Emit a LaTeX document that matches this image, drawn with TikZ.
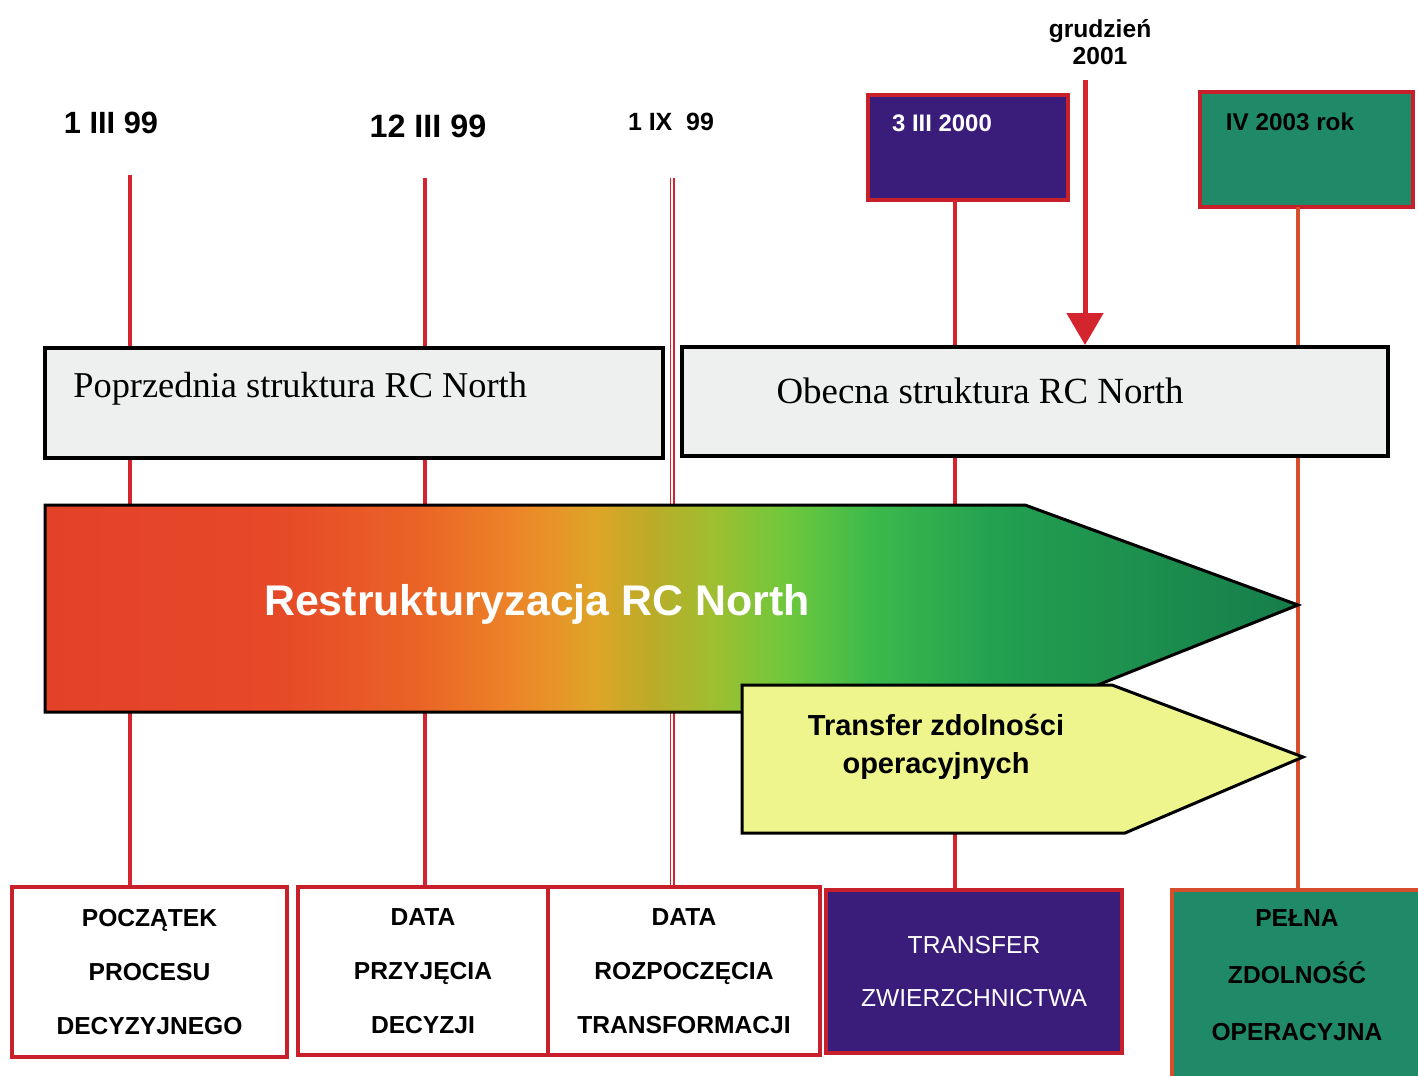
\documentclass[tikz,border=0pt]{standalone}
\usepackage{fontspec}
\setmainfont{Liberation Serif}
\setsansfont{Liberation Sans}
\usetikzlibrary{arrows.meta}

\definecolor{linered}{RGB}{212,36,46}
\definecolor{boxred}{RGB}{200,32,42}
\definecolor{pomaranczowy}{RGB}{214,78,44}
\definecolor{fioletowy}{RGB}{58,28,122}
\definecolor{zielony}{RGB}{32,138,104}
\definecolor{szary}{RGB}{238,240,240}
\definecolor{zolty}{RGB}{238,245,140}
\definecolor{g0}{RGB}{228,66,40}
\definecolor{g1}{RGB}{230,72,40}
\definecolor{g2}{RGB}{234,100,38}
\definecolor{g3}{RGB}{236,135,40}
\definecolor{g4}{RGB}{222,165,40}
\definecolor{g5}{RGB}{185,172,40}
\definecolor{g6}{RGB}{160,190,48}
\definecolor{g7}{RGB}{110,200,60}
\definecolor{g8}{RGB}{60,185,75}
\definecolor{g9}{RGB}{35,160,80}
\definecolor{g10}{RGB}{22,125,75}

\pgfdeclarehorizontalshading{restrukt}{100bp}{color(0bp)=(g0); color(25bp)=(g0);
  color(34bp)=(g1); color(40bp)=(g2); color(44bp)=(g3); color(47bp)=(g4);
  color(49.3bp)=(g5); color(51.6bp)=(g6); color(54.6bp)=(g7); color(58bp)=(g8);
  color(63bp)=(g9); color(75bp)=(g10); color(100bp)=(g10)}

\begin{document}
\begin{tikzpicture}[x=0.2mm, y=-0.2mm,
    os/.style={draw=linered, line width=0.8mm},
    data/.style={font=\sffamily\bfseries\fontsize{17.5}{20}\selectfont},
    struktura/.style={draw=black, line width=0.8mm, fill=szary, minimum height=22mm},
    strukttekst/.style={font=\fontsize{21}{24}\selectfont, anchor=base},
    etykieta/.style={draw=boxred, line width=0.8mm, fill=white, align=center,
        minimum height=33.6mm, font=\sffamily\bfseries\fontsize{14}{30.7}\selectfont},
    strzalka/.style={fill=zolty, draw=black, line width=0.6mm}]
    \useasboundingbox[fill=white] (0,0) rectangle (1418,1075);

    % Daty
    \node[data] (d1) at (111,123) {1 III 99};
    \node[data, font=\sffamily\bfseries\fontsize{18.4}{22}\selectfont] (d2) at (428,126) {12 III 99};
    \node[data, font=\sffamily\bfseries\fontsize{14.2}{17}\selectfont] (d3) at (671,122) {1 IX\ \ 99};
    \node[align=center, font=\sffamily\bfseries\fontsize{14}{15.4}\selectfont] (grudzien) at (1100,42) {grudzień\\2001};

    % Kolorowe prostokaty u gory
    \node[draw=boxred, line width=0.8mm, fill=fioletowy, minimum width=40mm, minimum height=21mm] (przekaz) at (968,147.5) {};
    \node[text=white, font=\sffamily\bfseries\fontsize{13.6}{16}\selectfont] (dprzekaz) at (942,123) {3 III 2000};
    \node[draw=boxred, line width=0.8mm, fill=zielony, minimum width=42.6mm, minimum height=23mm] (pelna) at (1306.5,149.5) {};
    \node[font=\sffamily\bfseries\fontsize{13.8}{16}\selectfont] (dpelna) at (1290,122) {IV 2003 rok};

    % Etapy na dole
    \node[etykieta, minimum width=55mm, minimum height=34mm] (b1) at (149.5,972) {POCZĄTEK\\PROCESU\\DECYZYJNEGO};
    \node[etykieta, minimum width=50mm] (b2) at (423,971) {DATA\\PRZYJĘCIA\\DECYZJI};
    \node[etykieta, minimum width=54.4mm] (b3) at (684,971) {DATA\\ROZPOCZĘCIA\\TRANSFORMACJI};
    \node[etykieta, fill=fioletowy, text=white, font=\sffamily\fontsize{14}{30.7}\selectfont,
        minimum width=59.2mm, minimum height=32.6mm] (b4) at (974,971.5) {TRANSFER\\ZWIERZCHNICTWA};
    \node[etykieta, fill=zielony, draw=pomaranczowy, minimum width=51mm, minimum height=40mm, anchor=north west] (b5) at (1170,888) {};
    \node[align=center, font=\sffamily\bfseries\fontsize{14}{32.4}\selectfont] (tb5) at (1297,975) {PEŁNA\\ZDOLNOŚĆ\\OPERACYJNA};

    % Linie czasu
    \coordinate (l1) at (130,175);
    \coordinate (l2) at (425,178);
    \coordinate (l3) at (672,178);
    \coordinate (l4) at (955,200);
    \coordinate (l5) at (1298,207);
    \draw[os] (l1) -- (l1 |- b1.north);
    \draw[os] (l2) -- (l2 |- b2.north);
    \draw[draw=linered, double=white, double distance=0.4mm, line width=0.3mm] (l3) -- (l3 |- b3.north);
    \draw[os] (l4) -- (l4 |- b4.north);
    \draw[os, draw=pomaranczowy] (l5) -- (l5 |- b5.north);

    % Struktury RC North
    \node[struktura, minimum width=123.6mm] (poprzednia) at (354,403) {};
    \node[strukttekst, font=\fontsize{20.7}{24}\selectfont, anchor=base west, inner sep=0pt] (tpoprz) at (73,397) {Poprzednia struktura RC North};
    \node[struktura, minimum width=141.2mm, minimum height=21.8mm] (obecna) at (1035,401.5) {};
    \node[strukttekst] (tobecna) at (980,403) {Obecna struktura RC North};

    \coordinate (g) at (1085,80);
    \draw[os, line width=1mm, -{Triangle[width=7.2mm, length=6.4mm]}] (g) -- (g |- obecna.north);

    % Strzalki
    \shadedraw[shading=restrukt, draw=black, line width=0.6mm]
        (45,505) -- (1025,505) -- (1298,605) -- (1030,712) -- (45,712) -- cycle;
    \node[text=white, font=\sffamily\bfseries\fontsize{24.4}{28}\selectfont] (restrukt) at (537,604) {Restrukturyzacja RC North};

    \draw[strzalka] (742,685) -- (1112,685) -- (1303,757) -- (1125,833) -- (742,833) -- cycle;
    \node[align=center, font=\sffamily\bfseries\fontsize{16.5}{21.6}\selectfont] (transfer) at (936,747) {Transfer zdolności\\operacyjnych};
\end{tikzpicture}
\end{document}
